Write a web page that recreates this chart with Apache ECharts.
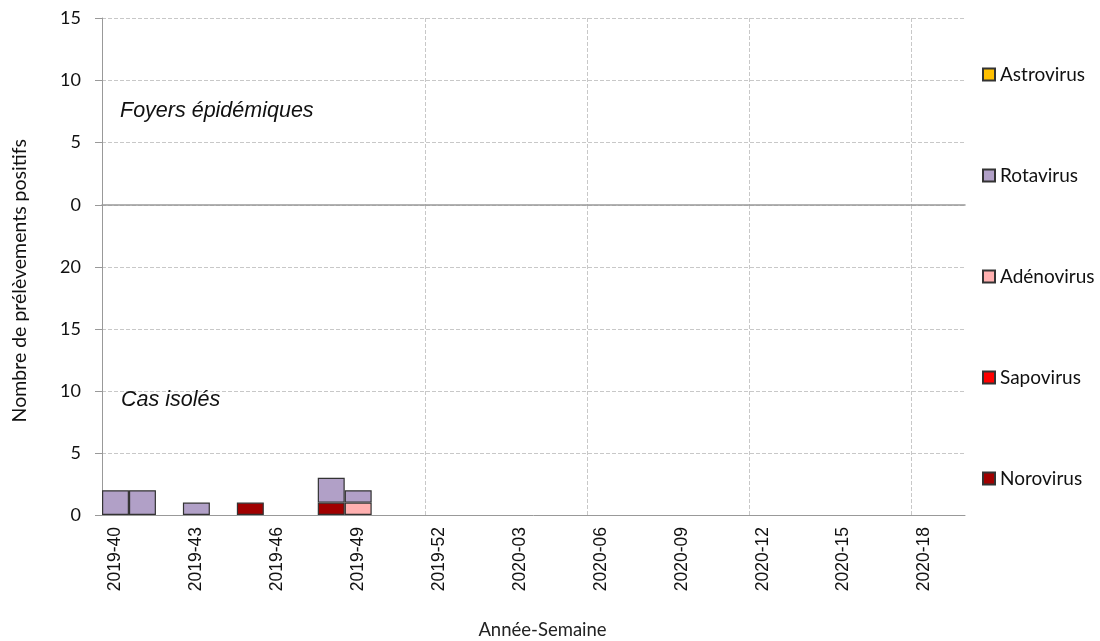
<!DOCTYPE html>
<html lang="fr">
<head>
	<meta charset="UTF-8">
	<title>Prélèvements positifs par semaine</title>
	<script src="https://cdn.jsdelivr.net/npm/echarts@6/dist/echarts.min.js"></script>
</head>
<body style="margin:0">
	<div id="main" style="width:1100px; height:641px"></div>
	<script>
		// semaines 2019-40 -> 2020-19
		var semaines = ["2019-40","2019-41","2019-42","2019-43","2019-44","2019-45","2019-46","2019-47","2019-48","2019-49",
			"2019-50","2019-51","2019-52","2020-01","2020-02","2020-03","2020-04","2020-05","2020-06","2020-07",
			"2020-08","2020-09","2020-10","2020-11","2020-12","2020-13","2020-14","2020-15","2020-16","2020-17",
			"2020-18","2020-19"];

		// cas isolés
		var isoNorovirus  = [0,0,0,0,0,1,0,0,1,0, 0,0,0,0,0,0,0,0,0,0, 0,0,0,0,0,0,0,0,0,0, 0,0];
		var isoSapovirus  = [0,0,0,0,0,0,0,0,0,0, 0,0,0,0,0,0,0,0,0,0, 0,0,0,0,0,0,0,0,0,0, 0,0];
		var isoAdenovirus = [0,0,0,0,0,0,0,0,0,1, 0,0,0,0,0,0,0,0,0,0, 0,0,0,0,0,0,0,0,0,0, 0,0];
		var isoRotavirus  = [2,2,0,1,0,0,0,0,2,1, 0,0,0,0,0,0,0,0,0,0, 0,0,0,0,0,0,0,0,0,0, 0,0];
		var isoAstrovirus = [0,0,0,0,0,0,0,0,0,0, 0,0,0,0,0,0,0,0,0,0, 0,0,0,0,0,0,0,0,0,0, 0,0];

		// foyers épidémiques (aucun)
		var foyNorovirus  = [0,0,0,0,0,0,0,0,0,0, 0,0,0,0,0,0,0,0,0,0, 0,0,0,0,0,0,0,0,0,0, 0,0];
		var foySapovirus  = [0,0,0,0,0,0,0,0,0,0, 0,0,0,0,0,0,0,0,0,0, 0,0,0,0,0,0,0,0,0,0, 0,0];
		var foyAdenovirus = [0,0,0,0,0,0,0,0,0,0, 0,0,0,0,0,0,0,0,0,0, 0,0,0,0,0,0,0,0,0,0, 0,0];
		var foyRotavirus  = [0,0,0,0,0,0,0,0,0,0, 0,0,0,0,0,0,0,0,0,0, 0,0,0,0,0,0,0,0,0,0, 0,0];
		var foyAstrovirus = [0,0,0,0,0,0,0,0,0,0, 0,0,0,0,0,0,0,0,0,0, 0,0,0,0,0,0,0,0,0,0, 0,0];

		var virus = ["Norovirus","Sapovirus","Adénovirus","Rotavirus","Astrovirus"];
		var couleurs = ["#a00000","#ff0000","#ffb0b0","#b1a0c7","#ffc000"];
		var isoles = [isoNorovirus, isoSapovirus, isoAdenovirus, isoRotavirus, isoAstrovirus];
		var foyers = [foyNorovirus, foySapovirus, foyAdenovirus, foyRotavirus, foyAstrovirus];

		var gris = "#999";
		var police = "Lato";

		function sansZero(arr) {
			return arr.map(function(v){ return v === 0 ? null : v; });
		}

		var series = [];
		virus.forEach(function(nom, i){
			[foyers, isoles].forEach(function(src, g){
				series.push({
					name: nom,
					type: "bar",
					stack: "s" + g,
					xAxisIndex: g,
					yAxisIndex: g,
					barCategoryGap: "0%",
					itemStyle: { color: couleurs[i], borderColor: "#333", borderWidth: 1.2 },
					data: sansZero(src[i])
				});
			});
		});

		function axeX(idx, labels) {
			return {
				type: "category",
				gridIndex: idx,
				data: semaines,
				axisLine: { lineStyle: { color: gris, width: idx === 0 ? 1.5 : 1 } },
				axisTick: { show: false },
				axisLabel: labels ? {
					interval: 2, rotate: 90, margin: 12,
					fontSize: 17.5, color: "#111", fontFamily: "Liberation Sans"
				} : { show: false },
				splitLine: {
					show: true,
					showMinLine: false,
					showMaxLine: false,
					interval: function(i){ return i % 6 === 0 && i > 0 && i < semaines.length; },
					lineStyle: { color: "#c8c8c8", type: [4, 2] }
				},
				name: labels ? "Année-Semaine" : "",
				nameLocation: "middle",
				nameGap: 106,
				nameTextStyle: { fontSize: 18.5, color: "#222", fontFamily: police, padding: [0, 0, 0, 18] }
			};
		}

		function axeY(idx, max) {
			return {
				type: "value",
				gridIndex: idx,
				min: 0, max: max, interval: 5,
				axisLine: { show: true, lineStyle: { color: gris } },
				axisTick: { show: true, length: 7, lineStyle: { color: gris } },
				axisLabel: {
					margin: 21, fontSize: 18, color: "#111", fontFamily: police,
					showMaxLabel: idx === 0
				},
				splitLine: { lineStyle: { color: "#c8c8c8", type: [4, 2] } }
			};
		}

		var myChart = echarts.init(document.getElementById("main"));
		myChart.setOption({
			animation: false,
			title: [
				{ text: "Foyers épidémiques", left: 115, top: 95,
				  textStyle: { fontSize: 21.5, fontStyle: "italic", fontWeight: "normal", color: "#111", fontFamily: "Liberation Sans" } },
				{ text: "Cas isolés", left: 116, top: 384,
				  textStyle: { fontSize: 21.5, fontStyle: "italic", fontWeight: "normal", color: "#111", fontFamily: "Liberation Sans" } }
			],
			legend: {
				data: ["Astrovirus","Rotavirus","Adénovirus","Sapovirus","Norovirus"],
				orient: "vertical",
				left: 977, top: 60,
				icon: "rect",
				itemWidth: 12, itemHeight: 12, itemGap: 82,
				textStyle: { fontSize: 19, color: "#111", fontFamily: police, lineHeight: 18.8 }
			},
			grid: [
				{ left: 102, right: 135, top: 18, height: 187 },
				{ left: 102, right: 135, top: 205, height: 312 }
			],
			xAxis: [axeX(0, false), axeX(1, true)],
			yAxis: [axeY(0, 15), axeY(1, 25)],
			graphic: [{
				type: "text",
				left: 10, top: 139,
				rotation: Math.PI / 2,
				style: { text: "Nombre de prélèvements positifs", fontSize: 19.5, fill: "#111", fontFamily: police }
			}],
			series: series
		});
	</script>
</body>
</html>
